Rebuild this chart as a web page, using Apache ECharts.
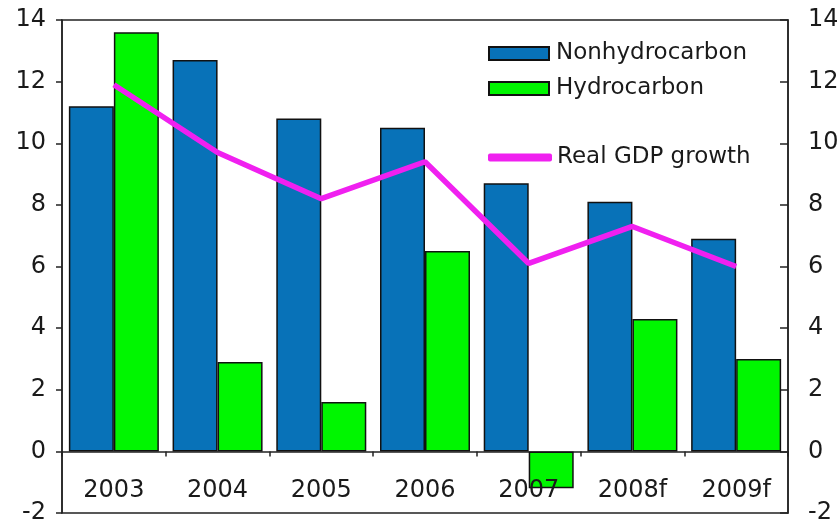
<!DOCTYPE html>
<html>
<head>
<meta charset="utf-8">
<script src="https://cdn.jsdelivr.net/npm/echarts@6/dist/echarts.min.js"></script>
<style>
  html, body { margin: 0; padding: 0; background: #fff; }
  #chart { width: 837px; height: 526px; }
</style>
</head>
<body>
<div id="chart"></div>
<script>
// Growth by sector, percent
const years = ['2003', '2004', '2005', '2006', '2007', '2008f', '2009f'];
const nonhydrocarbon = [11.2, 12.7, 10.8, 10.5, 8.7, 8.1, 6.9];
const hydrocarbon = [13.6, 2.9, 1.6, 6.5, -1.2, 4.3, 3.0];
const realGdpGrowth = [11.9, 9.7, 8.2, 9.4, 6.1, 7.3, 6.0];
const yTicks = { min: -2, max: 14, step: 2 };

const FONT = 'DejaVu Sans';
const TEXT = '#1a1a1a';
const BLUE = '#0872b8';
const GREEN = '#00f600';
const MAGENTA = '#f020f0';

const chart = echarts.init(document.getElementById('chart'), null, { renderer: 'canvas' });

const valueAxis = (pos) => ({
  type: 'value',
  position: pos,
  min: yTicks.min,
  max: yTicks.max,
  interval: yTicks.step,
  splitLine: { show: false },
  axisLine: { show: true, lineStyle: { color: '#222', width: 1.5 } },
  axisTick: { show: true, inside: pos === 'right', length: pos === 'right' ? 8 : 6, lineStyle: { color: '#222', width: 1.5 } },
  axisLabel: { color: TEXT, fontFamily: FONT, fontSize: 24, margin: pos === 'right' ? 20 : 16 }
});

chart.setOption({
  animation: false,
  backgroundColor: '#fff',
  grid: {
    left: 62, right: 49, top: 20, bottom: 13,
    containLabel: false, outerBoundsMode: 'none',
    show: true, borderColor: '#222', borderWidth: 1.5, backgroundColor: 'transparent'
  },
  legend: [
    {
      data: [{ name: 'Nonhydrocarbon', icon: 'rect' }, { name: 'Hydrocarbon', icon: 'rect' }],
      orient: 'vertical',
      left: 483, top: 37,
      itemWidth: 60, itemHeight: 13, itemGap: 12,
      textStyle: { color: TEXT, fontFamily: FONT, fontSize: 23, padding: [0, 0, 0, 2] }
    },
    {
      data: [{ name: 'Real GDP growth', icon: 'roundRect' }],
      left: 483, top: 141,
      itemWidth: 64, itemHeight: 8,
      textStyle: { color: TEXT, fontFamily: FONT, fontSize: 23 }
    }
  ],
  xAxis: [
    {
      // zero line with category boundary ticks
      type: 'category',
      data: years,
      axisLine: { show: true, onZero: true, lineStyle: { color: '#222', width: 1.5 } },
      axisTick: { show: true, length: 5, lineStyle: { color: '#222', width: 1.5 } },
      axisLabel: { show: false }
    },
    {
      // year labels sitting just above the bottom frame, drawn over the bars
      type: 'category',
      data: years,
      position: 'bottom',
      z: 10,
      axisLine: { show: false, onZero: false },
      axisTick: { show: false },
      axisLabel: { show: true, inside: true, color: TEXT, fontFamily: FONT, fontSize: 24, margin: 10, interval: 0 }
    }
  ],
  yAxis: [valueAxis('left'), valueAxis('right')],
  series: [
    {
      name: 'Nonhydrocarbon', type: 'bar', data: nonhydrocarbon,
      barWidth: 45, barGap: '0%',
      itemStyle: { color: BLUE, borderColor: '#111', borderWidth: 1.5 }
    },
    {
      name: 'Hydrocarbon', type: 'bar', data: hydrocarbon,
      barWidth: 45, barGap: '0%',
      itemStyle: { color: GREEN, borderColor: '#111', borderWidth: 1.5 }
    },
    {
      name: 'Real GDP growth', type: 'line', data: realGdpGrowth,
      showSymbol: false, symbol: 'none', z: 5,
      itemStyle: { color: MAGENTA },
      lineStyle: { color: MAGENTA, width: 5.5 }
    }
  ]
});
</script>
</body>
</html>
